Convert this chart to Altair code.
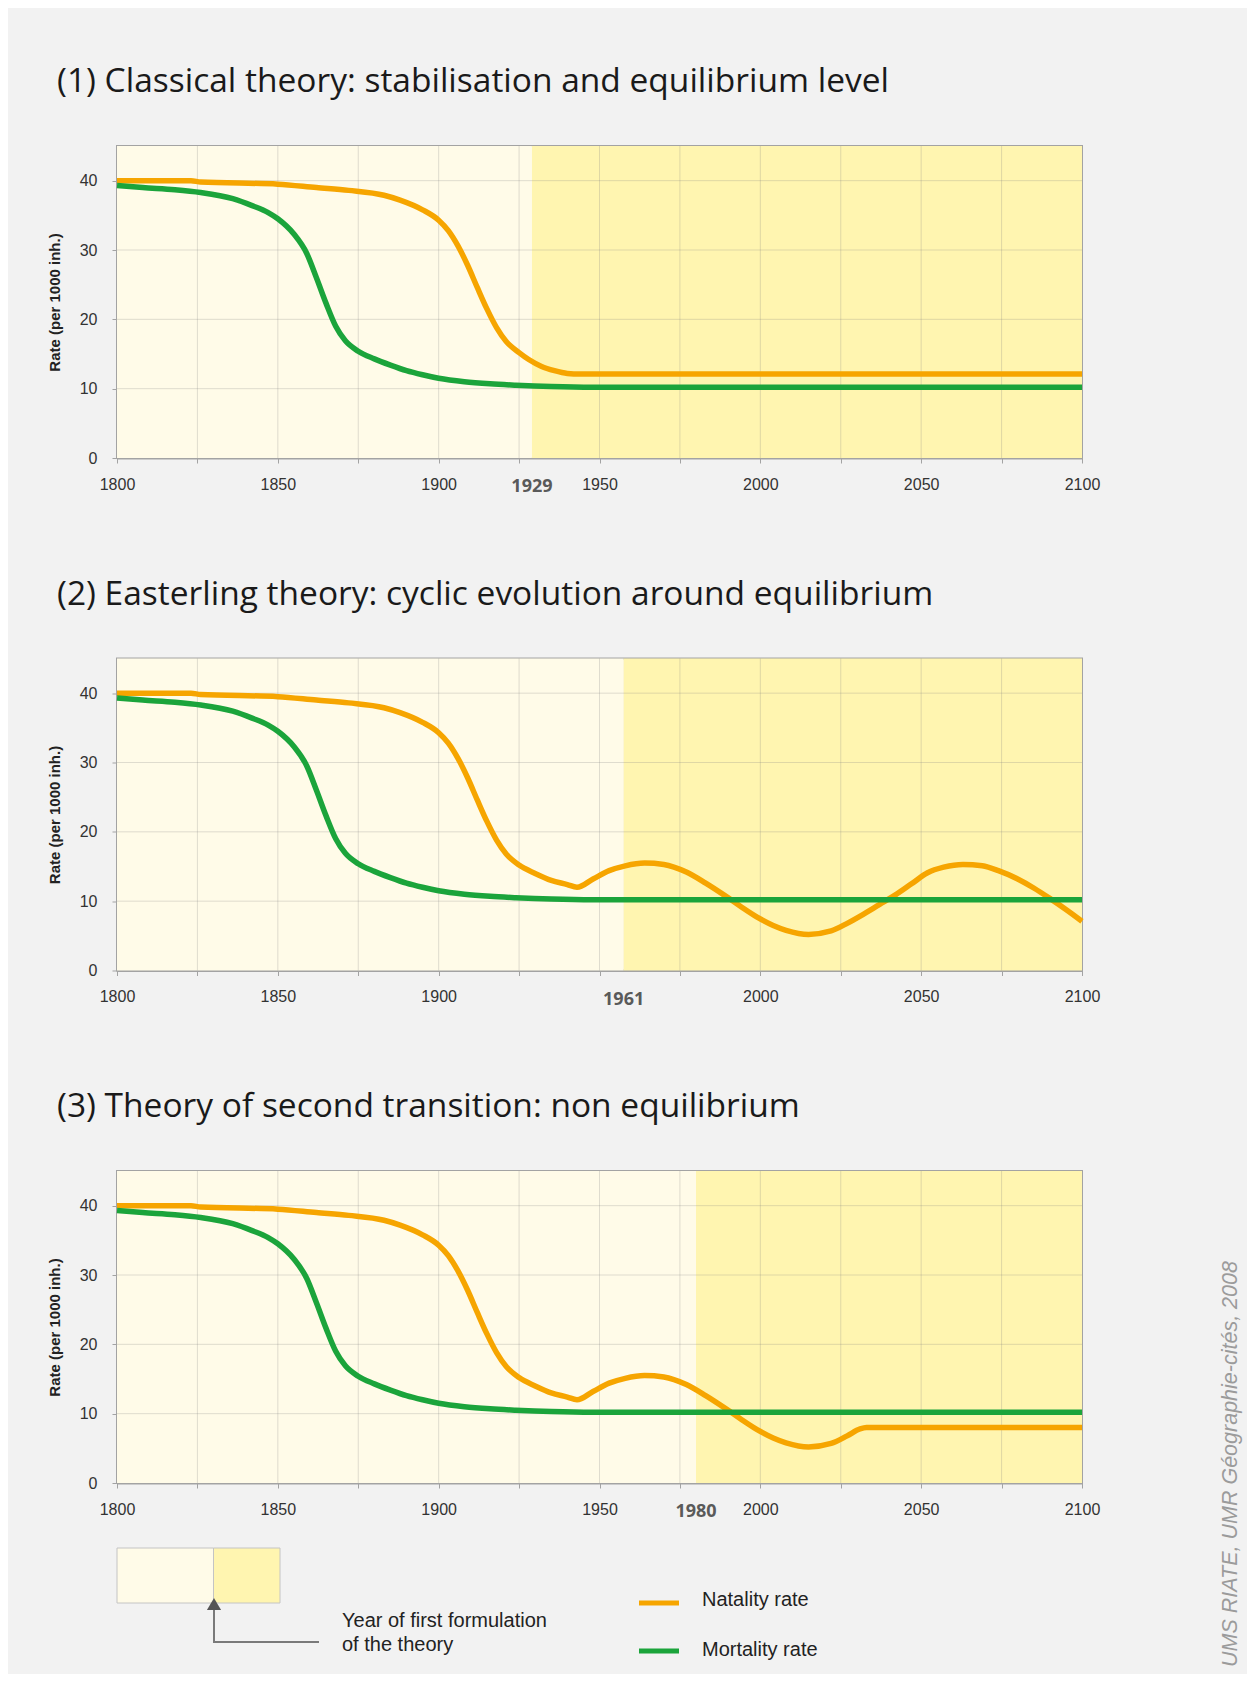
import altair as alt
import pandas as pd

# ---------------- data ----------------
SERIES = ["Natality rate", "Mortality rate"]
TITLES = [
    "(1) Classical theory: stabilisation and equilibrium level",
    "(2) Easterling theory: cyclic evolution around equilibrium",
    "(3) Theory of second transition: non equilibrium",
]
FORMULATION_EDGE = [1929, 1957.5, 1980]
FORMULATION_LABEL = ["1929", "1961", "1980"]
# year tick labels shown on each panel's axis (1950 is hidden under "1961" in panel 2)
SHOWN_LABELS = [
    [1800, 1850, 1900, 1950, 2000, 2050, 2100],
    [1800, 1850, 1900, 2000, 2050, 2100],
    [1800, 1850, 1900, 1950, 2000, 2050, 2100],
]

mort_years = [1800, 1808, 1818, 1826, 1836, 1842, 1847, 1850, 1855, 1859, 1862, 1865,
              1868, 1871, 1875, 1880, 1885, 1890, 1895, 1900, 1908, 1916, 1924, 1935,
              1948, 2100]
mort_vals = [39.3, 39.0, 38.7, 38.3, 37.4, 36.4, 35.4, 34.5, 32.3, 29.5, 26.0, 22.3,
             19.0, 16.9, 15.4, 14.3, 13.4, 12.6, 12.0, 11.5, 11.0, 10.7, 10.5, 10.3,
             10.2, 10.2]

nat_early_years = [1800, 1823, 1826, 1850, 1862, 1872, 1883, 1888, 1895, 1900, 1903,
                   1906, 1909, 1912, 1915, 1918, 1921, 1925]
nat_early_vals = [40.0, 40.0, 39.8, 39.5, 39.0, 38.6, 37.9, 37.2, 35.8, 34.3, 32.8,
                  30.6, 27.8, 24.6, 21.5, 18.8, 16.8, 15.2]

nat1_years = nat_early_years + [1928, 1932, 1936, 1940, 1944, 2100]
nat1_vals = nat_early_vals + [14.2, 13.2, 12.6, 12.2, 12.1, 12.1]

nat2_years = nat_early_years + [1930, 1935, 1940, 1943, 1948, 1953, 1958, 1964, 1970,
                                1977, 1983, 1989, 1994, 1999, 2004, 2008, 2015, 2022,
                                2027, 2032, 2037, 2042, 2047, 2052, 2057, 2063, 2069,
                                2074, 2080, 2085, 2090, 2095, 2100]
nat2_vals = nat_early_vals + [14.0, 13.0, 12.4, 12.0, 13.2, 14.4, 15.1, 15.5, 15.3,
                              14.2, 12.6, 10.8, 9.2, 7.7, 6.5, 5.8, 5.2, 5.7,
                              6.8, 8.1, 9.5, 10.9, 12.5, 14.1, 14.9, 15.3, 15.1,
                              14.4, 13.2, 11.9, 10.4, 8.8, 7.1]

nat3_years = nat_early_years + [1930, 1935, 1940, 1943, 1948, 1953, 1958, 1964, 1970,
                                1977, 1983, 1989, 1994, 1999, 2004, 2008, 2015, 2022,
                                2027, 2031, 2033, 2100]
nat3_vals = nat_early_vals + [14.0, 13.0, 12.4, 12.0, 13.2, 14.4, 15.1, 15.5, 15.3,
                              14.2, 12.6, 10.8, 9.2, 7.7, 6.5, 5.8, 5.2, 5.7,
                              6.8, 7.8, 8.0, 8.0]

grid_years = list(range(1825, 2100, 25))
grid_rates = [10, 20, 30, 40]
tick_years = list(range(1800, 2101, 25))
tick_rates = [0, 10, 20, 30, 40]
CREDIT = "UMS RIATE, UMR Géographie-cités, 2008"
LEGEND_NOTE = ["Year of first formulation", "of the theory"]

# ---------------- styles ----------------
ORANGE = "#f6a500"
GREEN = "#1ba43b"
CREAM = "#fffbe8"
YELLOW = "#fff5b0"
FRAME = "#a3a3a3"
W, H = 965, 312
LABEL_FONT = "Liberation Sans"

x_scale = alt.Scale(domain=[1800, 2100], nice=False, zero=False)
y_scale = alt.Scale(domain=[0, 45], nice=False, zero=True)

y_axis = alt.Axis(values=tick_rates, title="Rate (per 1000 inh.)", grid=False,
                  tickSize=5, labelPadding=15, labelFontSize=16, labelFont=LABEL_FONT,
                  labelColor="#333333", labelFlush=False,
                  titleFont=LABEL_FONT, titleFontSize=15, titleFontWeight="bold",
                  titleColor="#222222", titlePadding=17,
                  domainColor=FRAME, domainWidth=2, tickColor=FRAME)


def make_x_axis(shown):
    cond = " || ".join("datum.value == %d" % v for v in shown)
    return alt.Axis(values=tick_years, format="d",
                    labelExpr="(%s) ? datum.label : ''" % cond,
                    title=None, grid=False, tickSize=5, labelPadding=13,
                    labelFontSize=16, labelFont=LABEL_FONT, labelColor="#333333",
                    labelFlush=False, labelOverlap=False,
                    domainColor=FRAME, domainWidth=2, tickColor=FRAME)


def Y(field):
    return alt.Y(field, type="quantitative", scale=y_scale, axis=y_axis)


def panel(i, nat_years, nat_vals, extra=None):
    x_axis = make_x_axis(SHOWN_LABELS[i])

    def X(field):
        return alt.X(field, type="quantitative", scale=x_scale, axis=x_axis)

    edge = FORMULATION_EDGE[i]
    bands = pd.DataFrame({"start": [1800, edge], "end": [edge, 2100],
                          "lo": [0, 0], "hi": [45, 45],
                          "phase": ["before", "after"]})
    band_layer = alt.Chart(bands).mark_rect().encode(
        x=X("start"), x2="end", y=Y("lo"), y2="hi",
        color=alt.Color("phase:N", scale=alt.Scale(domain=["before", "after"],
                                                   range=[CREAM, YELLOW]),
                        legend=None))
    vgrid = alt.Chart(pd.DataFrame({"gy": grid_years})).mark_rule(
        color="#7f7f7f", opacity=0.25, strokeWidth=1).encode(x=X("gy"))
    hgrid = alt.Chart(pd.DataFrame({"gr": grid_rates})).mark_rule(
        color="#7f7f7f", opacity=0.25, strokeWidth=1).encode(y=Y("gr"))
    nat = alt.Chart(pd.DataFrame({"year": nat_years, "rate": nat_vals})).mark_line(
        color=ORANGE, strokeWidth=5.5, interpolate="monotone").encode(
        x=X("year"), y=Y("rate"))
    mort = alt.Chart(pd.DataFrame({"year": mort_years, "rate": mort_vals})).mark_line(
        color=GREEN, strokeWidth=5.5, interpolate="monotone").encode(
        x=X("year"), y=Y("rate"))
    lab = alt.Chart(pd.DataFrame({"edge": [edge], "label": [FORMULATION_LABEL[i]]})).mark_text(
        font="Open Sans", fontWeight="bold", fontSize=18, color="#5a5a5a",
        baseline="middle", align="center").encode(
        x=X("edge"), y=alt.value(H + 29), text="label:N")
    layers = [band_layer, vgrid, hgrid, nat, mort, lab]
    if extra:
        layers += extra
    return alt.layer(*layers).properties(
        width=W, height=H,
        title=alt.TitleParams(TITLES[i], anchor="start", frame="group", dx=-60,
                              offset=46, fontSize=33.5, font="Open Sans",
                              fontWeight="normal", color="#1a1a1a"))


one = pd.DataFrame({"k": [0]})
txt = dict(align="left", baseline="middle", fontSize=20, font=LABEL_FONT, color="#222222")
legend_layers = [
    alt.Chart(one).mark_rect(color=CREAM, stroke="#c4c4c4", strokeWidth=1).encode(
        x=alt.value(0), x2=alt.value(96.5), y=alt.value(377), y2=alt.value(432)),
    alt.Chart(one).mark_rect(color=YELLOW, stroke="#c4c4c4", strokeWidth=1).encode(
        x=alt.value(96.5), x2=alt.value(163), y=alt.value(377), y2=alt.value(432)),
    alt.Chart(one).mark_rule(color="#7a7a7a", strokeWidth=2).encode(
        x=alt.value(97), y=alt.value(438), y2=alt.value(471)),
    alt.Chart(one).mark_rule(color="#7a7a7a", strokeWidth=2).encode(
        x=alt.value(96), x2=alt.value(202), y=alt.value(471)),
    alt.Chart(one).mark_point(shape="triangle-up", filled=True, size=200,
                              color="#555555", opacity=1).encode(
        x=alt.value(97), y=alt.value(433)),
    alt.Chart(one).mark_text(**txt).encode(
        x=alt.value(225), y=alt.value(450), text=alt.value(LEGEND_NOTE[0])),
    alt.Chart(one).mark_text(**txt).encode(
        x=alt.value(225), y=alt.value(474), text=alt.value(LEGEND_NOTE[1])),
    alt.Chart(one).mark_rule(color=ORANGE, strokeWidth=5).encode(
        x=alt.value(522), x2=alt.value(562), y=alt.value(432)),
    alt.Chart(one).mark_rule(color=GREEN, strokeWidth=5).encode(
        x=alt.value(522), x2=alt.value(562), y=alt.value(480)),
    alt.Chart(one).mark_text(**txt).encode(
        x=alt.value(585), y=alt.value(429), text=alt.value(SERIES[0])),
    alt.Chart(one).mark_text(**txt).encode(
        x=alt.value(585), y=alt.value(479), text=alt.value(SERIES[1])),
    alt.Chart(one).mark_text(angle=270, align="center", baseline="middle", fontSize=21.5,
                             font=LABEL_FONT, fontStyle="italic", color="#9b9b9b").encode(
        x=alt.value(1114), y=alt.value(293), text=alt.value(CREDIT)),
]

p1 = panel(0, nat1_years, nat1_vals)
p2 = panel(1, nat2_years, nat2_vals)
p3 = panel(2, nat3_years, nat3_vals, extra=legend_layers)

chart = alt.vconcat(p1, p2, p3, spacing=200.5, bounds="flush").properties(
    padding={"left": 38, "top": 56, "right": 4, "bottom": 6}
).configure(background="#f2f2f2").configure_view(stroke=FRAME, strokeWidth=2)

chart.save("out.html", embed_options={"renderer": "svg", "actions": False})
